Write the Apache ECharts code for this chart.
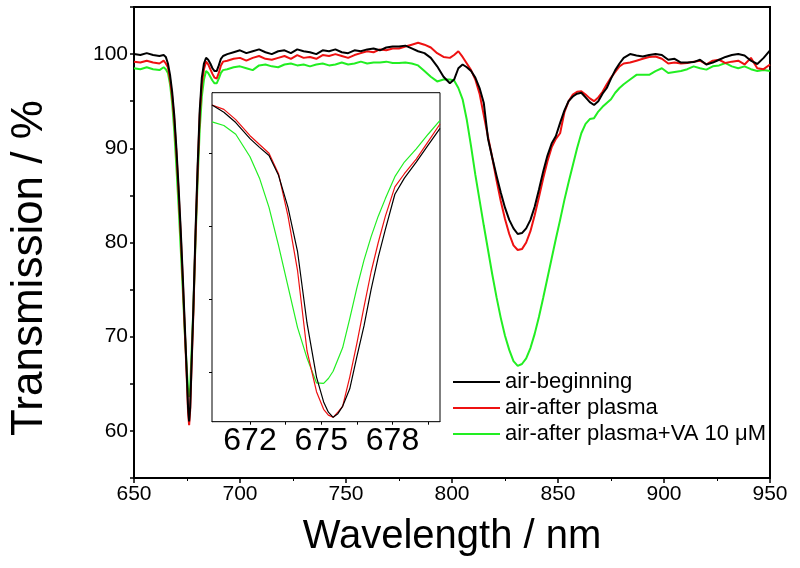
<!DOCTYPE html>
<html lang="en">
<head>
    <meta charset="utf-8" />
    <script src="https://cdn.jsdelivr.net/npm/echarts@6.0.0/dist/echarts.min.js"></script>
    <style>
        html, body { margin: 0; padding: 0; background: #fff; }
        #view1 { width: 800px; height: 568px; }
    </style>
</head>
<body>

<div id="view1"></div>

<script>
    // wavelength (nm) of the main spectra
    var wl = [650, 653, 656, 659, 662, 664, 665, 666, 667, 668,
        669, 670, 671, 672, 673, 674, 675, 675.5, 676, 676.5,
        677, 678, 679, 680, 681, 682, 683, 684, 685, 686,
        687, 688, 689, 690, 691, 692, 694, 697,
        700, 703, 706, 709, 712, 715, 718, 721, 724, 727,
        730, 733, 736, 739, 742, 745, 748, 751, 754, 757,
        760, 763, 766, 769, 772, 775, 778, 781, 784, 787,
        790, 793, 796, 799,
        801, 803, 805, 807, 809, 811, 813, 815, 817, 819,
        821, 823, 825, 827, 829, 831, 833, 835, 837, 839,
        841, 843, 845, 847, 849, 851, 853, 855, 857, 859,
        861, 863, 865, 867, 869, 871, 873, 875, 877, 879,
        881,
        884, 887, 890, 893, 896, 899, 902, 905, 908, 911,
        914, 917, 920, 923, 926, 929, 932, 935, 938, 941,
        944, 947, 950];

    var tBegin = [100.0, 99.9, 100.1, 99.9, 99.8, 99.9, 99.7, 99.0, 97.8, 96.0,
        93.5, 90.0, 86.0, 81.5, 76.5, 71.0, 65.5, 62.5, 61.0, 62.5,
        66.0, 73.0, 81.0, 88.0, 94.0, 97.5, 99.0, 99.6, 99.4, 99.0,
        98.5, 98.2, 98.2, 98.8, 99.5, 99.8, 100.0, 100.2,
        100.4, 100.1, 100.3, 100.5, 100.2, 100.0, 100.3, 100.4, 100.1, 100.5,
        100.3, 100.2, 100.0, 100.4, 100.3, 100.5, 100.2, 100.1, 100.4, 100.3,
        100.5, 100.6, 100.4, 100.7, 100.8, 100.8, 100.9, 100.6, 100.3, 100.1,
        99.6, 98.7, 97.6, 96.9,
        97.3, 98.5, 98.9, 98.6, 98.2, 97.5, 96.4, 94.8, 91.0, 89.0,
        87.1, 85.3, 83.7, 82.4, 81.5, 80.9, 81.0, 81.5, 82.4, 83.8,
        85.6, 87.5, 89.2, 90.5, 91.3, 92.7, 94.0, 95.0, 95.5, 95.8,
        95.9, 95.4, 94.9, 94.6, 95.0, 95.8, 96.4, 97.4, 98.3, 99.0,
        99.6,
        100.0, 99.85, 99.75, 99.9, 100.0, 99.9, 99.4, 99.5, 99.1, 99.1,
        99.15, 99.4, 98.9, 99.1, 99.4, 99.7, 99.9, 100.0, 99.85, 99.3,
        98.95, 99.6, 100.4];

    var tPlasma = [99.2, 99.1, 99.3, 99.1, 99.0, 99.3, 99.0, 98.6, 97.3, 95.5,
        93.0, 89.5, 85.5, 81.0, 76.0, 70.5, 65.0, 62.0, 60.6, 62.2,
        65.8, 72.5, 80.5, 87.5, 93.5, 96.8, 98.4, 99.2, 98.9, 98.4,
        97.9, 97.5, 97.4, 98.0, 98.8, 99.2, 99.3, 99.5,
        99.6, 99.3, 99.6, 99.8, 99.5, 99.4, 99.6, 99.8, 99.5, 99.9,
        99.6, 99.7, 99.5, 99.9, 99.8, 100.0, 99.8, 99.6, 99.9, 100.1,
        100.3, 100.2, 100.5, 100.4, 100.6, 100.6, 100.8, 101.0, 101.2, 101.0,
        100.7, 100.1, 99.7, 99.6,
        99.9, 100.3, 99.7, 99.0, 98.3, 97.3, 95.8, 93.5, 91.2, 89.0,
        86.6, 84.4, 82.5, 80.9, 79.7, 79.2, 79.3, 80.0, 81.2, 82.9,
        84.8, 86.8, 88.6, 90.1, 91.0, 91.6, 93.8, 95.0, 95.7, 96.0,
        96.05, 95.7, 95.3, 95.0, 95.4, 96.0, 96.8, 97.5, 98.1, 98.7,
        99.0,
        99.1, 99.3, 99.5, 99.7, 99.75, 99.5, 99.0, 99.1, 99.0, 99.05,
        99.2, 99.3, 98.9, 99.3, 99.4, 99.05, 99.2, 99.3, 98.9, 99.6,
        98.5, 98.4, 98.9];

    var tVA = [98.5, 98.4, 98.6, 98.4, 98.3, 98.6, 98.4, 98.0, 96.8, 94.8,
        91.8, 88.0, 84.0, 79.5, 75.0, 70.2, 66.2, 64.4, 63.6, 64.6,
        67.5, 73.0, 80.0, 86.5, 92.0, 95.5, 97.3, 98.2, 98.0, 97.6,
        97.2, 96.9, 96.9, 97.4, 98.0, 98.3, 98.4, 98.6,
        98.7, 98.5, 98.3, 98.8, 98.9, 98.7, 98.6, 98.9, 99.0, 98.8,
        98.9, 98.7, 98.9, 99.0, 98.8, 98.9, 99.1, 98.9, 99.0, 99.2,
        99.0, 99.1, 99.1, 99.2, 99.05, 99.05, 99.1, 99.0, 98.8, 98.2,
        97.6, 97.1, 97.3, 97.3,
        97.2, 96.4, 95.2, 93.0, 90.2, 87.2, 84.5, 81.8, 79.2, 76.6,
        74.2, 72.0, 70.1, 68.6, 67.4, 66.9, 67.1, 67.7, 68.8, 70.3,
        72.1, 74.1, 76.2, 78.3, 80.4, 82.4, 84.5, 86.4, 88.2, 90.0,
        91.6, 92.6, 93.1, 93.2, 93.9, 94.4, 94.8, 95.2, 95.9, 96.4,
        96.8,
        97.3, 97.8, 97.8, 97.8, 98.2, 98.5, 98.0, 98.1, 98.2, 98.4,
        98.7, 98.5, 98.35, 98.7, 98.8, 99.05, 98.7, 98.5, 98.7, 98.4,
        98.2, 98.3, 98.2];

    // inset: close-up of the 675 nm dip
    var insetWl = [670.4, 670.9, 671.4, 672.0, 672.4, 672.8, 673.2, 673.6, 674.0, 674.4,
        674.8, 675.1, 675.3, 675.5, 675.7, 675.9, 676.2, 676.5, 676.8, 677.1,
        677.4, 677.7, 678.1, 678.5, 679.0, 679.5, 680.0];
    var insetBegin = [83.3, 82.8, 82.1, 81.0, 80.4, 79.85, 78.5, 76.3, 73.3, 68.4,
        64.7, 63.0, 62.3, 61.95, 62.2, 62.7, 63.9, 66.1, 68.2, 70.7,
        72.9, 74.8, 77.2, 78.3, 79.4, 80.56, 81.7];
    var insetPlasma = [83.3, 83.0, 82.3, 81.2, 80.6, 80.0, 78.6, 75.7, 72.0, 66.5,
        63.7, 62.5, 62.1, 61.95, 62.3, 62.7, 64.7, 67.0, 69.5, 71.9,
        73.9, 75.7, 77.7, 78.6, 79.6, 80.8, 82.0];
    var insetVA = [82.15, 81.9, 81.3, 79.76, 78.3, 76.3, 73.7, 70.9, 68.1, 66.0,
        64.3, 64.27, 64.6, 65.1, 65.9, 66.7, 68.7, 70.8, 72.7, 74.3,
        75.7, 76.9, 78.4, 79.4, 80.3, 81.3, 82.25];

    var names = ["air-beginning", "air-after plasma", "air-after plasma+VA 10 \u03bcM"];
    var colors = ["#000000", "#ee1111", "#22ee22"];
    var mainTicks = [60, 70, 80, 90, 100];
    var insetLabels = [672, 675, 678];
    var insetTicks = [672, 673.5, 675, 676.5, 678, 679.5];
    var insetYTicks = [65, 70, 75, 80];

    var FONT = 'Arial, "Liberation Sans", sans-serif';

    function pairs(xs, ys){
        return xs.map(function(x, i){ return [x, ys[i]]; });
    }

    window.onload = function(){
        var myChart = echarts.init(document.getElementById("view1"));

        var mainData = [tBegin, tPlasma, tVA];
        var insetData = [insetBegin, insetPlasma, insetVA];
        var series = [];
        mainData.forEach(function(d, i){
            series.push({
                name: names[i], type: "line", xAxisIndex: 0, yAxisIndex: 0,
                data: pairs(wl, d), symbol: "none", z: 3 - i + 2,
                lineStyle: { color: colors[i], width: 2 },
                itemStyle: { color: colors[i] }
            });
        });
        insetData.forEach(function(d, i){
            series.push({
                name: names[i], type: "line", xAxisIndex: 1, yAxisIndex: 1,
                data: pairs(insetWl, d), symbol: "none", z: 10 - i,
                lineStyle: { color: colors[i], width: 1.2 },
                itemStyle: { color: colors[i] }
            });
        });

        var option = {
            animation: false,
            backgroundColor: "#fff",
            grid: [
                { left: 134, right: 30, top: 7, bottom: 90, show: true, borderColor: "#000", borderWidth: 2 },
                { left: 212, top: 92.7, width: 228, height: 329, show: true,
                  borderColor: "#000", borderWidth: 1, backgroundColor: "#fff", z: 5 }
            ],
            legend: {
                data: names, orient: "vertical", left: 453, top: 369, padding: 0,
                icon: "rect", itemWidth: 47, itemHeight: 2, itemGap: 0,
                textStyle: { fontFamily: FONT, fontSize: 22, color: "#000", lineHeight: 26 }
            },
            xAxis: [
                {
                    type: "value", gridIndex: 0, min: 650, max: 950, interval: 50,
                    axisLine: { lineStyle: { color: "#000", width: 2 } },
                    axisTick: { inside: false, length: 5, lineStyle: { color: "#000", width: 1.5 } },
                    minorTick: { show: true, splitNumber: 2, length: 3, lineStyle: { color: "#000" } },
                    axisLabel: { fontFamily: FONT, fontSize: 21, color: "#000", margin: 6 },
                    splitLine: { show: false }
                },
                {
                    type: "value", gridIndex: 1, min: 670.4, max: 680,
                    axisLine: { lineStyle: { color: "#000", width: 1 } },
                    axisTick: { customValues: insetTicks, length: 3, lineStyle: { color: "#000" } },
                    axisLabel: { customValues: insetLabels, fontFamily: FONT, fontSize: 32, color: "#000", margin: 3 },
                    splitLine: { show: false }
                }
            ],
            yAxis: [
                {
                    type: "value", gridIndex: 0, min: 55, max: 105, interval: 5,
                    axisLine: { show: true, lineStyle: { color: "#000", width: 2 } },
                    axisTick: { show: true, length: 4, lineStyle: { color: "#000", width: 1.5 } },
                    axisLabel: {
                        fontFamily: FONT, fontSize: 21, color: "#000", margin: 6,
                        formatter: function(v){ return mainTicks.indexOf(v) >= 0 ? String(v) : ""; }
                    },
                    splitLine: { show: false }
                },
                {
                    type: "value", gridIndex: 1, min: 61.65, max: 84.14,
                    axisLine: { show: true, lineStyle: { color: "#000", width: 1 } },
                    axisTick: { show: true, customValues: insetYTicks, length: 3, lineStyle: { color: "#000" } },
                    axisLabel: { show: false },
                    splitLine: { show: false }
                }
            ],
            graphic: [
                {
                    type: "text", x: 30, y: 268, rotation: Math.PI / 2,
                    style: { text: "Transmission / %", fontFamily: FONT, fontSize: 44, fill: "#000",
                             align: "center", verticalAlign: "middle" }
                },
                {
                    type: "text", x: 452, y: 537,
                    style: { text: "Wavelength / nm", fontFamily: FONT, fontSize: 40, fill: "#000",
                             align: "center", verticalAlign: "middle" }
                }
            ],
            series: series
        };

        myChart.setOption(option);
    };
</script>

</body>
</html>
